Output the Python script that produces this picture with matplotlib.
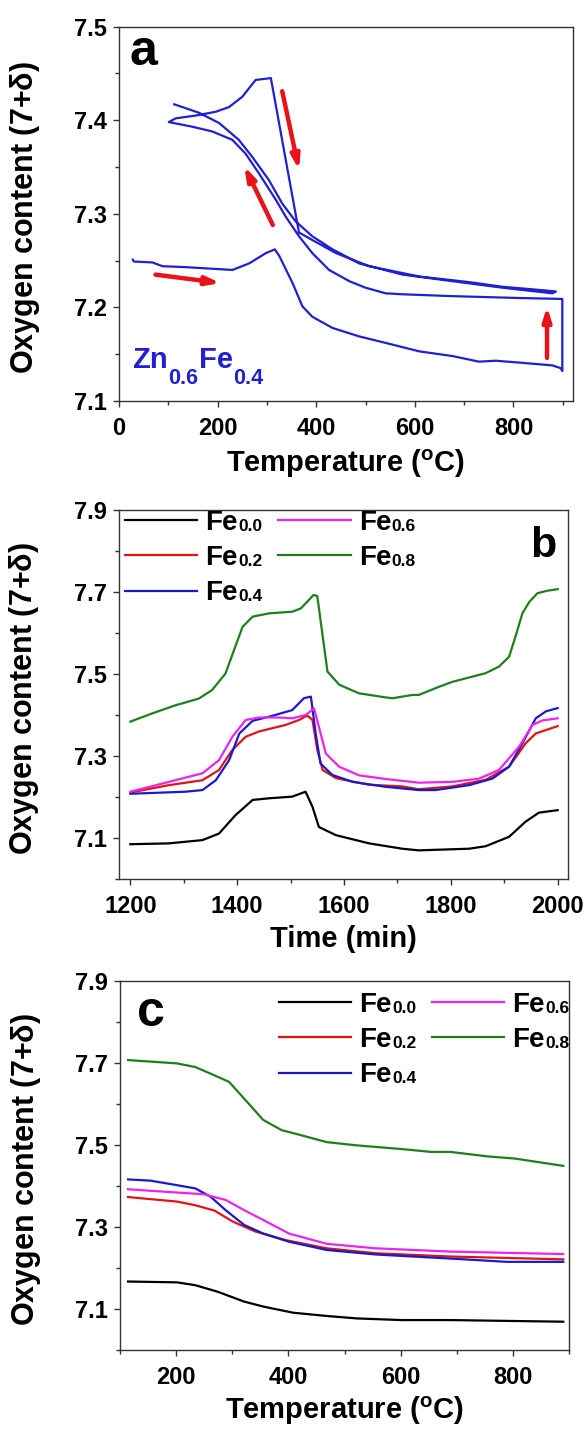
import matplotlib
matplotlib.use("Agg")
import matplotlib.pyplot as plt
from matplotlib.ticker import MultipleLocator

plt.rcParams["font.family"] = ["Liberation Sans", "DejaVu Sans"]
plt.rcParams["font.weight"] = "bold"
plt.rcParams["mathtext.fontset"] = "custom"
plt.rcParams["mathtext.rm"] = "Liberation Sans"
plt.rcParams["mathtext.bf"] = "Liberation Sans:bold"

# ---- panel a: heating / cooling loop of Zn0.6Fe0.4 (one continuous trace) ----
a_temp = [28, 30, 68, 88, 135, 230, 264, 298, 316, 325, 352, 372, 392, 433, 487, 541,
          609, 676, 730, 764, 812, 879, 896, 899,                       # heating
          899, 812, 676, 575, 541, 500, 467, 426, 392, 365, 338, 318, 284, 257, 230,
          189, 149, 101,                                                  # cooling
          115, 156, 196, 223, 250, 277, 308, 365, 392, 440, 507, 609, 710, 778, 845,
          886,                                                            # heating
          879, 778, 676, 575, 487, 433, 392, 358, 331, 304, 270, 243, 203, 162, 112]
a_oxy = [7.251, 7.249, 7.248, 7.244, 7.243, 7.240, 7.247, 7.258, 7.262, 7.255, 7.226, 7.201,
         7.190, 7.178, 7.169, 7.162, 7.153, 7.148, 7.142, 7.143, 7.141, 7.138, 7.135, 7.132,
         7.209, 7.210, 7.212, 7.214, 7.215, 7.221, 7.228, 7.240, 7.258, 7.276, 7.297, 7.315,
         7.343, 7.364, 7.379, 7.388, 7.393, 7.398,
         7.402, 7.405, 7.409, 7.414, 7.425, 7.443, 7.445, 7.280, 7.272, 7.258, 7.244, 7.233,
         7.227, 7.222, 7.219, 7.217,
         7.215, 7.221, 7.228, 7.235, 7.247, 7.262, 7.276, 7.292, 7.311, 7.336, 7.361, 7.379,
         7.397, 7.408, 7.417]

# arrows (tail, head) in data units
arrow_tail = [(74, 7.235), (312, 7.288), (331, 7.431), (868, 7.146)]
arrow_head = [(206, 7.226), (254, 7.351), (365, 7.347), (868, 7.201)]

# ---- panel b: oxygen content vs time ----
t_fe00 = [1200, 1272, 1335, 1366, 1397, 1429, 1460, 1503, 1528, 1541, 1553, 1585, 1647, 1709,
          1740, 1834, 1865, 1909, 1940, 1965, 2000]
o_fe00 = [7.085, 7.087, 7.095, 7.111, 7.156, 7.193, 7.197, 7.201, 7.213, 7.176, 7.127, 7.107,
          7.087, 7.074, 7.070, 7.074, 7.080, 7.103, 7.140, 7.162, 7.168]
t_fe02 = [1200, 1272, 1335, 1366, 1391, 1416, 1441, 1491, 1516, 1531, 1541, 1550, 1560, 1585,
          1647, 1709, 1740, 1803, 1865, 1909, 1940, 1959, 2000]
o_fe02 = [7.211, 7.229, 7.241, 7.266, 7.315, 7.347, 7.360, 7.376, 7.388, 7.399, 7.388, 7.315,
          7.266, 7.246, 7.230, 7.226, 7.219, 7.226, 7.242, 7.274, 7.331, 7.355, 7.373]
t_fe04 = [1200, 1303, 1335, 1360, 1385, 1404, 1429, 1460, 1503, 1525, 1538, 1547, 1556, 1578,
          1616, 1678, 1740, 1771, 1834, 1878, 1909, 1934, 1959, 1978, 2000]
o_fe04 = [7.208, 7.213, 7.217, 7.241, 7.290, 7.355, 7.386, 7.396, 7.412, 7.441, 7.445, 7.355,
          7.282, 7.254, 7.237, 7.225, 7.217, 7.217, 7.229, 7.245, 7.274, 7.331, 7.392, 7.409,
          7.417]
t_fe06 = [1200, 1272, 1335, 1366, 1391, 1416, 1441, 1479, 1503, 1528, 1544, 1553, 1566, 1591,
          1628, 1678, 1740, 1803, 1853, 1890, 1928, 1953, 1972, 2000]
o_fe06 = [7.213, 7.237, 7.258, 7.290, 7.347, 7.388, 7.394, 7.394, 7.392, 7.400, 7.416, 7.371,
          7.306, 7.274, 7.253, 7.244, 7.235, 7.237, 7.245, 7.266, 7.323, 7.376, 7.387, 7.392]
t_fe08 = [1200, 1241, 1285, 1328, 1353, 1378, 1394, 1410, 1429, 1460, 1503, 1519, 1531, 1543,
          1550, 1556, 1569, 1591, 1628, 1678, 1691, 1728, 1740, 1778, 1803, 1865, 1890, 1909,
          1921, 1934, 1947, 1962, 1980, 2000]
o_fe08 = [7.384, 7.404, 7.424, 7.440, 7.461, 7.501, 7.558, 7.615, 7.640, 7.648, 7.652, 7.660,
          7.676, 7.693, 7.690, 7.632, 7.506, 7.474, 7.453, 7.443, 7.441, 7.449, 7.449, 7.469,
          7.481, 7.502, 7.518, 7.542, 7.591, 7.648, 7.676, 7.697, 7.703, 7.707]

# ---- panel c: oxygen content vs temperature ----
T_fe00 = [114, 201, 234, 274, 321, 355, 408, 468, 522, 602, 689, 890]
c_fe00 = [7.167, 7.165, 7.158, 7.142, 7.118, 7.106, 7.091, 7.083, 7.077, 7.073, 7.073, 7.069]
T_fe02 = [114, 201, 234, 268, 301, 341, 395, 468, 555, 689, 890]
c_fe02 = [7.373, 7.362, 7.353, 7.340, 7.313, 7.289, 7.268, 7.248, 7.236, 7.228, 7.221]
T_fe04 = [114, 154, 201, 234, 261, 288, 321, 355, 401, 468, 555, 689, 789, 890]
c_fe04 = [7.416, 7.413, 7.402, 7.394, 7.374, 7.341, 7.305, 7.284, 7.264, 7.244, 7.233, 7.223,
          7.215, 7.215]
T_fe06 = [114, 201, 248, 288, 321, 355, 401, 468, 555, 689, 890]
c_fe06 = [7.392, 7.384, 7.380, 7.366, 7.341, 7.317, 7.284, 7.259, 7.248, 7.240, 7.234]
T_fe08 = [114, 201, 234, 261, 294, 321, 355, 388, 422, 468, 522, 602, 655, 689, 756, 803, 890]
c_fe08 = [7.707, 7.699, 7.690, 7.674, 7.654, 7.613, 7.561, 7.536, 7.524, 7.507, 7.499, 7.490,
          7.483, 7.483, 7.472, 7.467, 7.449]

fe_suffix = ["0.0", "0.2", "0.4", "0.6", "0.8"]
fe_colors = ["black", "#e01414", "#1a1acc", "#ee22ee", "#1f7f1f"]

blue = "#2020d0"
ylab = "Oxygen content (7+$\\mathrm{\\delta}$)"
templab = "Temperature ($^{\\rm o}$C)"

fig = plt.figure(figsize=(5.87, 14.31), dpi=100)
ax_a = fig.add_axes([0.2027, 0.7198, 0.7729, 0.2616])
ax_b = fig.add_axes([0.2034, 0.3857, 0.7639, 0.2579])
ax_c = fig.add_axes([0.2048, 0.0566, 0.7644, 0.2579])


def style(ax, xlabel, xlab_y, ylab_x):
    for s in ax.spines.values():
        s.set_color("#333333")
        s.set_linewidth(1.0)
    ax.tick_params(which="both", direction="out", top=False, right=False,
                   labelsize=17, color="#333333", width=1.0)
    ax.tick_params(which="major", length=4.2)
    ax.tick_params(which="minor", length=3.2)
    ax.tick_params(axis="x", pad=7)
    ax.tick_params(axis="y", pad=4.5)
    ax.set_xlabel(xlabel, fontsize=21, fontweight="bold")
    ax.set_ylabel(ylab, fontsize=22, fontweight="bold")
    ax.xaxis.set_label_coords(0.5, xlab_y)
    ax.yaxis.set_label_coords(ylab_x, 0.49)


def fe_legend(ax, anchor):
    leg = ax.legend(ax.get_lines()[:5], ["Fe"] * 5, ncol=2, loc="upper left",
                    bbox_to_anchor=anchor, frameon=False, fontsize=20,
                    handlelength=2.6, handletextpad=0.3, columnspacing=1.45,
                    labelspacing=0.33, borderpad=0, borderaxespad=0)
    for txt, sfx in zip(leg.get_texts(), fe_suffix):
        ax.annotate(sfx, xy=(1, 0), xycoords=txt, xytext=(0.3, 1.4),
                    textcoords="offset points", fontsize=12.5, fontweight="bold",
                    va="bottom", ha="left", zorder=10, annotation_clip=False)


# panel a
ax_a.plot(a_temp, a_oxy, color=blue, lw=1.6)
for tail, head in zip(arrow_tail, arrow_head):
    ax_a.annotate("", xy=head, xytext=tail,
                  arrowprops=dict(arrowstyle="-|>,head_length=0.8,head_width=0.25",
                                  color="#e8121a", lw=3.2, mutation_scale=10,
                                  shrinkA=0, shrinkB=0))
ax_a.set_xlim(0, 920)
ax_a.set_ylim(7.1, 7.5)
ax_a.set_xticks([0, 200, 400, 600, 800])
ax_a.xaxis.set_minor_locator(MultipleLocator(100))
ax_a.set_yticks([7.1, 7.2, 7.3, 7.4, 7.5])
ax_a.yaxis.set_minor_locator(MultipleLocator(0.05))
style(ax_a, templab, -0.1256, -0.170)
ax_a.text(0.024, 0.898, "a", transform=ax_a.transAxes, fontsize=36, fontweight="bold",
          va="baseline", ha="left")
z1 = ax_a.text(0.029, 0.088, "Zn", transform=ax_a.transAxes, fontsize=21,
               fontweight="bold", color=blue, va="baseline", ha="left")
z2 = ax_a.annotate("0.6", xy=(1, 0), xycoords=z1, xytext=(0.3, -11), textcoords="offset points",
                   fontsize=15.5, fontweight="bold", color=blue, va="bottom", ha="left")
z3 = ax_a.annotate("Fe", xy=(1, 0), xycoords=(z2, z1), xytext=(0.3, 0), textcoords="offset points",
                   fontsize=21, fontweight="bold", color=blue, va="bottom", ha="left")
ax_a.annotate("0.4", xy=(1, 0), xycoords=z3, xytext=(0.3, -11), textcoords="offset points",
              fontsize=15.5, fontweight="bold", color=blue, va="bottom", ha="left")

# panel b
for t, o, c in zip([t_fe00, t_fe02, t_fe04, t_fe06, t_fe08],
                   [o_fe00, o_fe02, o_fe04, o_fe06, o_fe08], fe_colors):
    ax_b.plot(t, o, color=c, lw=1.6)
ax_b.set_xlim(1179.5, 2019)
ax_b.set_ylim(7.0, 7.9)
ax_b.set_xticks([1200, 1400, 1600, 1800, 2000])
ax_b.xaxis.set_minor_locator(MultipleLocator(100))
ax_b.set_yticks([7.1, 7.3, 7.5, 7.7, 7.9])
ax_b.yaxis.set_minor_locator(MultipleLocator(0.1))
style(ax_b, "Time (min)", -0.1247, -0.174)
fe_legend(ax_b, (0.0125, 1.0))
ax_b.text(0.975, 0.873, "b", transform=ax_b.transAxes, fontsize=31, fontweight="bold",
          va="baseline", ha="right")

# panel c
for T, o, c in zip([T_fe00, T_fe02, T_fe04, T_fe06, T_fe08],
                   [c_fe00, c_fe02, c_fe04, c_fe06, c_fe08], fe_colors):
    ax_c.plot(T, o, color=c, lw=1.6)
ax_c.set_xlim(100, 900)
ax_c.set_ylim(7.0, 7.9)
ax_c.set_xticks([200, 400, 600, 800])
ax_c.xaxis.set_minor_locator(MultipleLocator(100))
ax_c.set_yticks([7.1, 7.3, 7.5, 7.7, 7.9])
ax_c.yaxis.set_minor_locator(MultipleLocator(0.1))
style(ax_c, templab, -0.122, -0.172)
fe_legend(ax_c, (0.353, 0.97))
ax_c.text(0.037, 0.878, "c", transform=ax_c.transAxes, fontsize=36, fontweight="bold",
          va="baseline", ha="left")

fig.savefig("out.png", dpi=100)
